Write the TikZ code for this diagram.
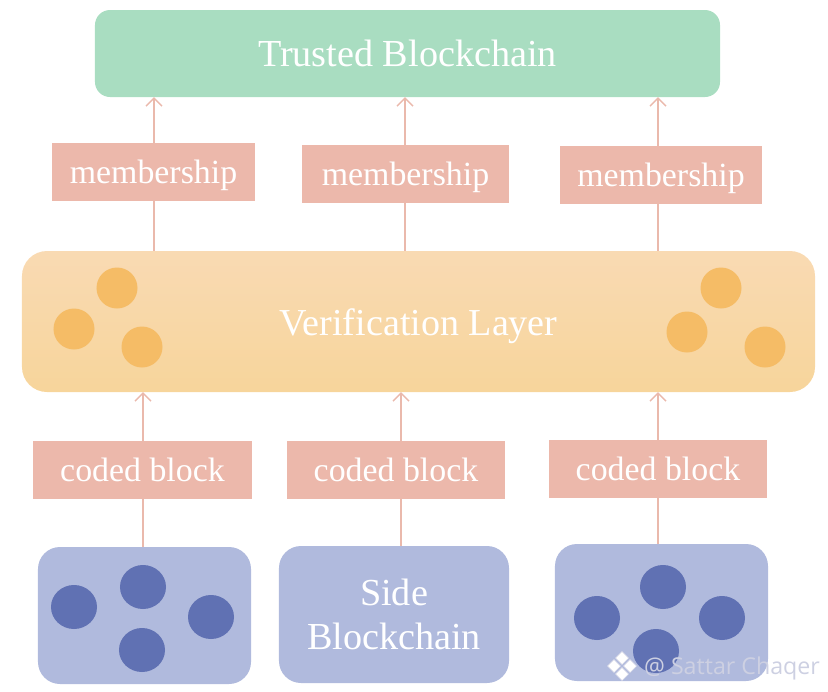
\documentclass[tikz,border=0pt]{standalone}
\usepackage{fontspec}
\setmainfont{Liberation Serif}
\newfontfamily\markfont{Open Sans}
\usetikzlibrary{arrows.meta,calc,positioning,shapes.geometric}
\definecolor{mint}{HTML}{A9DDC1}
\definecolor{peach}{HTML}{F9DAB3}
\definecolor{peachlow}{HTML}{F7D59B}
\definecolor{honey}{HTML}{F5BC66}
\definecolor{salmon}{HTML}{ECB8AB}
\definecolor{wire}{HTML}{EAB9AC}
\definecolor{periwinkle}{HTML}{B0BADD}
\definecolor{indigo}{HTML}{6071B3}
\definecolor{markgray}{HTML}{CDD0E2}
\tikzset{chainbox/.style={rounded corners=.66cm,fill=periwinkle,inner sep=0pt,minimum height=4.11cm,text=white,font=\fontsize{32.6}{38}\selectfont,align=center},
labelbox/.style={fill=salmon,inner sep=0pt,minimum height=1.74cm,text=white,font=\fontsize{28.9}{32}\selectfont,text height=.8cm,text depth=.14cm},
honeydot/.style={circle,fill=honey,inner sep=0pt,minimum size=1.23cm},
indigodot/.style={ellipse,fill=indigo,inner sep=0pt,minimum width=1.38cm,minimum height=1.32cm},
wireline/.style={draw=wire,line width=1.2pt},
wirearrow/.style={wireline,-{Straight Barb[length=2.4mm,width=4.8mm]}},
marktile/.style={diamond,fill=white,draw=markgray,line width=.4pt,inner sep=0pt,minimum size=.4cm}}
\begin{document}
\begin{tikzpicture}[x=.03cm,y=-.03cm]
\useasboundingbox (0,0) rectangle (828,692);
\node[rounded corners=.45cm,fill=mint,inner sep=0pt,minimum width=18.75cm,minimum height=2.61cm,text=white,font=\fontsize{32.6}{40}\selectfont] (trusted) at (407.5,53.5) {Trusted Blockchain};
\node[rounded corners=.75cm,top color=peach,bottom color=peachlow,inner sep=0pt,minimum width=23.79cm,minimum height=4.23cm,text=white,font=\fontsize{32.5}{40}\selectfont,text height=1.1cm,text depth=.26cm] (verif) at (418.5,321.5) {Verification Layer};
\foreach \n/\x/\y/\w in {1/153.5/172/6.09,2/405.5/174/6.21,3/661/175/6.06} {
  \node[labelbox,minimum width=\w cm] (mem\n) at (\x,\y) {membership};}
\foreach \n/\x/\y in {1/142.5/470,2/396/470,3/658/469} {
  \node[labelbox,minimum width=6.55cm] (coded\n) at (\x,\y) {coded block};}
\node[chainbox,minimum width=6.39cm] (side1) at (144.5,615.5) {};
\node[chainbox,minimum width=6.9cm] (side2) at (394,614.5) {Side\\Blockchain};
\node[chainbox,minimum width=6.39cm] (side3) at (661.5,612.5) {};
% dots
\foreach \n/\x/\y in {1/117/288,2/74/329,3/142/347,4/721/288,5/687/332,6/765/347} {
  \node[honeydot] (hd\n) at (\x,\y) {};}
\foreach \n/\x/\y in {1/74/607,2/143/587,3/211/617,4/142/650,5/597/618,6/663/587,7/722/618,8/656/651} {
  \node[indigodot] (id\n) at (\x,\y) {};}
% connectors
\foreach \n/\x in {1/154,2/405,3/658} {
  \draw[wirearrow] (\x,0 |- mem\n.north) -- (\x,0 |- trusted.south);
  \draw[wireline] (\x,0 |- verif.north) -- (\x,0 |- mem\n.south);}
\foreach \n/\x in {1/143,2/401,3/658} {
  \draw[wirearrow] (\x,0 |- coded\n.north) -- (\x,0 |- verif.south);
  \draw[wireline] (\x,0 |- side\n.north) -- (\x,0 |- coded\n.south);}
% watermark
\foreach \n/\x/\y in {1/622/658,2/614/666,3/630/666,4/622/674} {
  \node[marktile] (tile\n) at (\x,\y) {};}
\node[anchor=west,text=markgray,font=\markfont\fontsize{19.8}{22}\selectfont] (mark) at (640,668) {@ Sattar Chaqer};
\end{tikzpicture}
\end{document}
